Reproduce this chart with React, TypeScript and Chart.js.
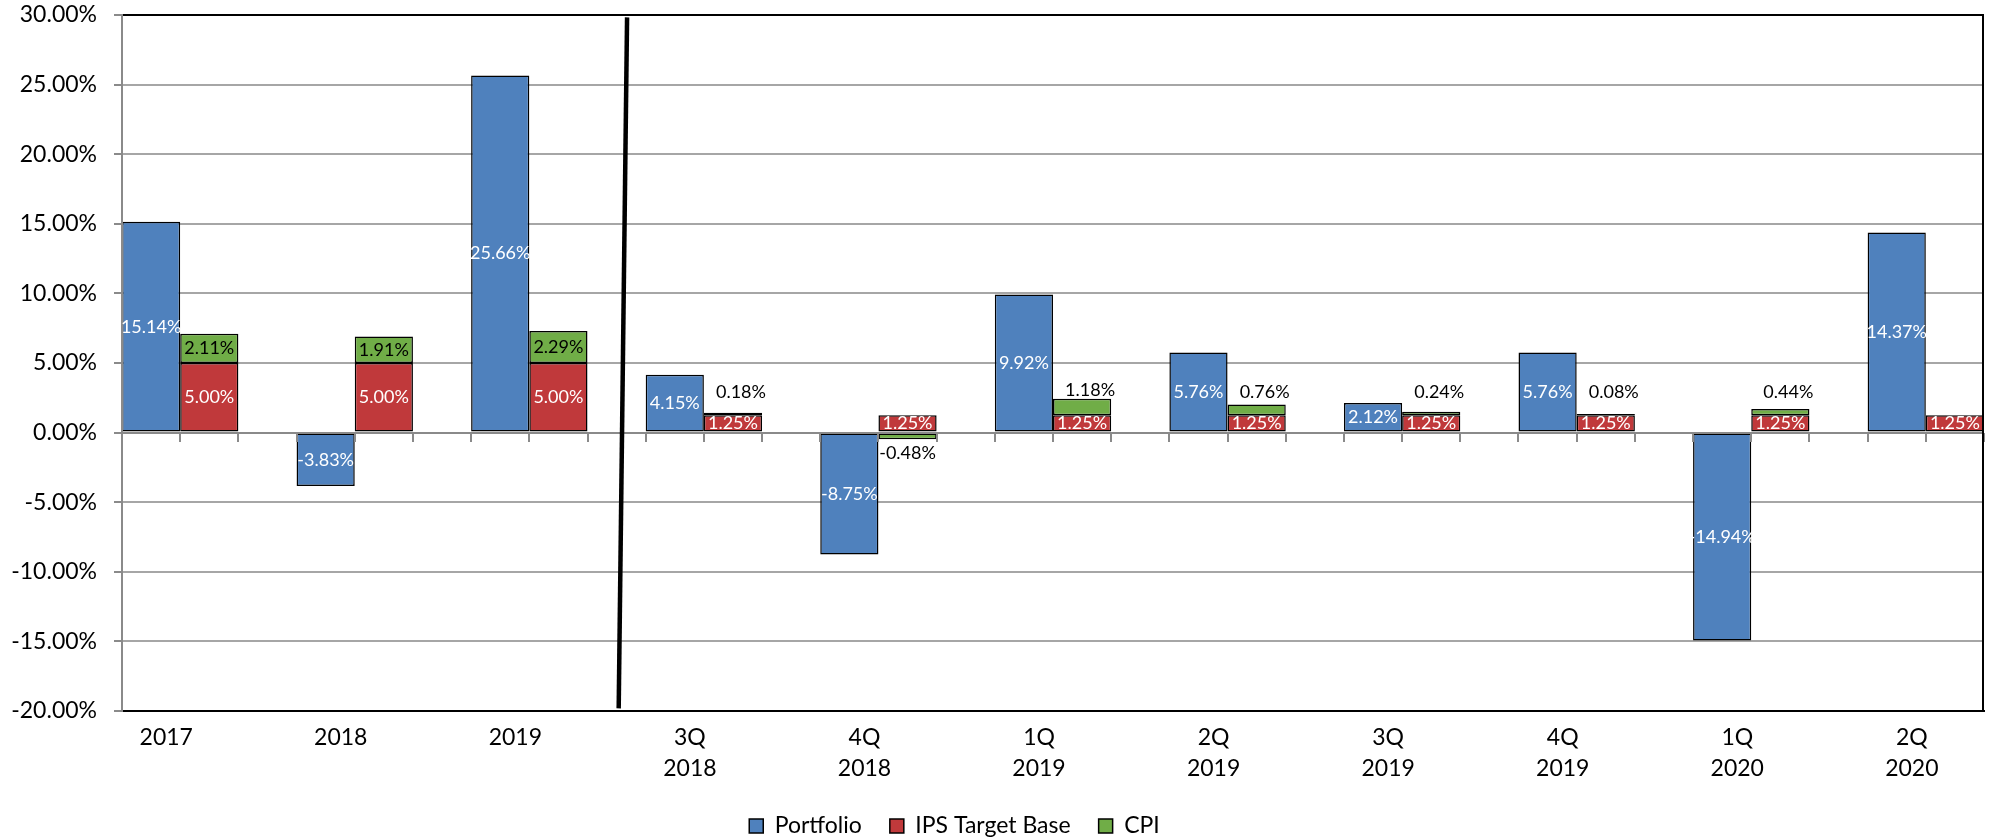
import React, { useEffect, useRef } from 'react';
import { Chart, registerables } from 'chart.js';

Chart.register(...registerables);

// ---------- data ----------
const CATEGORIES = ['2017', '2018', '2019', '3Q 2018', '4Q 2018', '1Q 2019', '2Q 2019', '3Q 2019', '4Q 2019', '1Q 2020', '2Q 2020'];
const PORTFOLIO = [15.14, -3.83, 25.66, 4.15, -8.75, 9.92, 5.76, 2.12, 5.76, -14.94, 14.37];
const IPS_TARGET = [5.0, 5.0, 5.0, 1.25, 1.25, 1.25, 1.25, 1.25, 1.25, 1.25, 1.25];
const CPI: (number | null)[] = [2.11, 1.91, 2.29, 0.18, -0.48, 1.18, 0.76, 0.24, 0.08, 0.44, null];
const Y_MIN = -20;
const Y_MAX = 30;
const Y_STEP = 5;
// divider between annual and quarterly periods, in data units [x, y]
const DIVIDER_TOP = [2.56, 29.83];
const DIVIDER_BOTTOM = [2.512, -19.81];
const CPI_LABEL_LEVEL = 2.9;

// ---------- styles ----------
const BLUE = '#4F81BD';
const RED = '#C0393B';
const GREEN = '#70AD47';
const GRID_GREY = '#A6A6A6';
const AXIS_GREY = '#8A8A8A';
const FONT = 'Lato';
const CATEGORY_PERCENT = 2 / 3;
const LABEL_SHIFT = -0.08;
const LEGEND_DX = -37.5;
const LEGEND_DY = 7.5;

const legendShift = {
  id: 'legendShift',
  afterLayout(chart: any) {
    const l = chart.legend;
    if (!l) return;
    l.left += LEGEND_DX;
    l.right += LEGEND_DX;
    l.top += LEGEND_DY;
    l.bottom += LEGEND_DY;
  },
};

const overlay = {
  id: 'overlay',
  afterDatasetsDraw(chart: any) {
    const { ctx, chartArea: a } = chart;
    const xs = chart.scales.x;
    const ys = chart.scales.y;
    ctx.save();
    const y0 = Math.round(ys.getPixelForValue(0));
    ctx.strokeStyle = AXIS_GREY;
    ctx.lineWidth = 2;
    ctx.beginPath();
    ctx.moveTo(a.left, y0);
    ctx.lineTo(a.right, y0);
    ctx.stroke();
    const half = CATEGORY_PERCENT / 2;
    CATEGORIES.forEach((_, i) => {
      [i - half, i, i + half].forEach((v) => {
        const px = Math.round(xs.getPixelForValue(v));
        ctx.beginPath();
        ctx.moveTo(px, y0);
        ctx.lineTo(px, y0 + 9);
        ctx.stroke();
      });
    });
    ctx.beginPath();
    ctx.moveTo(a.left, a.top);
    ctx.lineTo(a.left, a.bottom);
    ctx.stroke();
    // right border
    ctx.strokeStyle = '#000';
    ctx.beginPath();
    ctx.moveTo(a.right - 1, a.top - 1);
    ctx.lineTo(a.right - 1, a.bottom + 1);
    ctx.stroke();
    // divider
    ctx.lineWidth = 4.5;
    ctx.beginPath();
    ctx.moveTo(xs.getPixelForValue(DIVIDER_TOP[0]), ys.getPixelForValue(DIVIDER_TOP[1]));
    ctx.lineTo(xs.getPixelForValue(DIVIDER_BOTTOM[0]), ys.getPixelForValue(DIVIDER_BOTTOM[1]));
    ctx.stroke();

    // data labels
    ctx.font = `18px ${FONT}`;
    ctx.textAlign = 'center';
    ctx.textBaseline = 'middle';
    chart.data.datasets.forEach((ds: any, di: number) => {
      const meta = chart.getDatasetMeta(di);
      meta.data.forEach((el: any, i: number) => {
        const v = ds.data[i].y;
        if (v === null || v === undefined) return;
        const { x: bx, y: by, base } = el.getProps(['x', 'y', 'base'], true);
        const text = v.toFixed(2) + '%';
        const h = Math.abs(base - by);
        let tx = bx;
        let ty = (by + base) / 2;
        let color = '#FFFFFF';
        if (ds.label === 'CPI') {
          color = '#000000';
          if (h < 22) {
            if (v >= 0) {
              ty = Math.min(by - 9, ys.getPixelForValue(CPI_LABEL_LEVEL));
              tx = bx + 8;
            } else {
              ty = by + 14;
            }
          }
        }
        ctx.fillStyle = color;
        ctx.fillText(text, tx, ty);
      });
    });
    ctx.restore();
  },
};

export default function App() {
  const ref = useRef<HTMLCanvasElement>(null);
  useEffect(() => {
    if (!ref.current) return;
    Chart.defaults.font.family = FONT;
    const toPts = (arr: (number | null)[]) => arr.map((v, i) => ({ x: i, y: v }));
    const common = {
      borderColor: '#000000',
      borderWidth: 1.5,
      borderSkipped: false,
      categoryPercentage: CATEGORY_PERCENT,
      barPercentage: 1,
    };
    const chart = new Chart(ref.current, {
      type: 'bar',
      data: {
        datasets: [
          { label: 'Portfolio', data: toPts(PORTFOLIO), backgroundColor: BLUE, stack: 'p', ...common },
          { label: 'IPS Target Base', data: toPts(IPS_TARGET), backgroundColor: RED, stack: 'b', ...common },
          { label: 'CPI', data: toPts(CPI), backgroundColor: GREEN, stack: 'b', ...common },
        ] as any,
      },
      options: {
        responsive: false,
        animation: false,
        layout: { padding: { top: 15, right: 13, left: 0, bottom: 0 } },
        plugins: {
          legend: {
            position: 'bottom',
            labels: {
              color: '#000',
              font: { size: 23, family: FONT },
              boxWidth: 14,
              boxHeight: 14,
              padding: 28,
            },
          },
          tooltip: { enabled: false },
        },
        scales: {
          x: {
            type: 'linear',
            min: -CATEGORY_PERCENT / 2,
            max: CATEGORIES.length - 1 + CATEGORY_PERCENT / 2,
            offset: false,
            grid: { display: false, drawTicks: false, offset: false },
            border: { color: '#000', width: 2 },
            afterBuildTicks: (s: any) => {
              s.ticks = CATEGORIES.map((_, i) => ({ value: i + LABEL_SHIFT }));
            },
            afterFit: (s: any) => {
              s.height = 68;
              s.paddingLeft = 0;
              s.paddingRight = 0;
            },
            ticks: {
              autoSkip: false,
              maxRotation: 0,
              minRotation: 0,
              padding: 11,
              color: '#000',
              font: { size: 23, family: FONT, lineHeight: 1.35 },
              callback: (_v: any, i: number) => CATEGORIES[i].split(' '),
            },
          },
          y: {
            stacked: true,
            min: Y_MIN,
            max: Y_MAX,
            afterFit: (s: any) => {
              s.width = 122;
              s.paddingTop = 0;
              s.paddingBottom = 0;
            },
            ticks: {
              stepSize: Y_STEP,
              padding: 17,
              color: '#000',
              font: { size: 23, family: FONT },
              callback: (v: any) => Number(v).toFixed(2) + '%',
            },
            grid: {
              color: (c: any) => (c.tick && (c.tick.value === Y_MAX || c.tick.value === Y_MIN) ? '#000' : GRID_GREY),
              lineWidth: 2,
              tickLength: 8,
              tickColor: AXIS_GREY,
            },
            border: { color: AXIS_GREY, width: 2 },
          },
        },
      } as any,
      plugins: [legendShift, overlay],
    });
    return () => chart.destroy();
  }, []);
  return (
    <div style={{ position: 'absolute', left: 0, top: 0, width: 1997, height: 840, background: '#fff' }}>
      <canvas ref={ref} width={1997} height={840} style={{ display: 'block' }} />
    </div>
  );
}
